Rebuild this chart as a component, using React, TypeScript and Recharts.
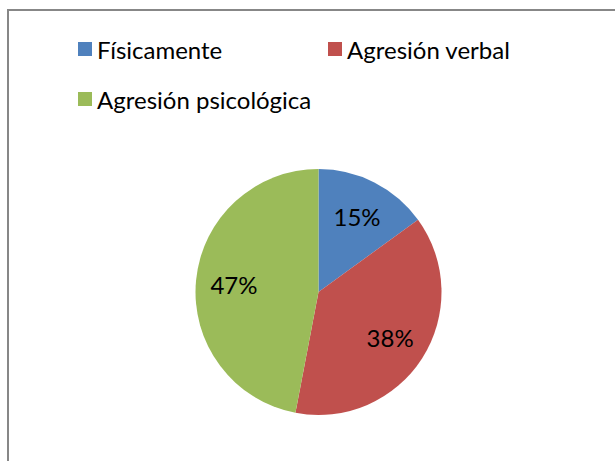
import { PieChart, Pie, Cell, Legend } from "recharts";

const categories = ["Físicamente", "Agresión verbal", "Agresión psicológica"];
const values = [15, 38, 47];
const colors = ["#4F81BD", "#C0504D", "#9BBB59"];

const data = categories.map((name, i) => ({ name, value: values[i] }));

const FONT = "Lato, Calibri, 'Noto Sans', sans-serif";
const RADIAN = Math.PI / 180;
const LEGEND_H = 113;

const renderLabel = (props: any) => {
  const { cx, cy, midAngle, outerRadius, percent } = props;
  const r = outerRadius * 0.69;
  const x = cx + r * Math.cos(-midAngle * RADIAN);
  const y = cy + r * Math.sin(-midAngle * RADIAN);
  return (
    <text
      x={x}
      y={y}
      fill="#000"
      textAnchor="middle"
      dominantBaseline="central"
      fontFamily={FONT}
      fontSize={24}
    >
      {`${Math.round(percent * 100)}%`}
    </text>
  );
};

const renderLegend = ({ payload }: any) => {
  const items = [...(payload || [])].sort(
    (a: any, b: any) => categories.indexOf(a.value) - categories.indexOf(b.value)
  );
  return (
    <div
      style={{
        display: "flex",
        flexWrap: "wrap",
        paddingLeft: 69,
        paddingTop: 13,
        width: 600,
        height: LEGEND_H,
        boxSizing: "border-box",
        fontFamily: FONT,
        fontSize: 24,
        color: "#000",
      }}
    >
      {items.map((entry: any, i: number) => (
        <div
          key={i}
          style={{ display: "flex", alignItems: "center", width: 250, height: 50, flexShrink: 0 }}
        >
          <div style={{ width: 14, height: 14, background: entry.color, marginRight: 5 }} />
          <span>{entry.value}</span>
        </div>
      ))}
    </div>
  );
};

export default function App() {
  return (
    <div
      style={{
        position: "fixed",
        left: 0,
        top: 0,
        width: 615,
        height: 461,
        overflow: "hidden",
        background: "#fff",
      }}
    >
      <div
        style={{
          position: "absolute",
          left: 7,
          top: 9,
          width: 640,
          height: 480,
          border: "2px solid #878787",
          boxSizing: "border-box",
          background: "#fff",
        }}
      >
        <PieChart width={606} height={450} margin={{ top: 0, right: 0, bottom: 0, left: 0 }}>
          <Legend
            verticalAlign="top"
            align="left"
            content={renderLegend}
            wrapperStyle={{ top: 0, left: 0 }}
          />
          <Pie
            data={data}
            dataKey="value"
            nameKey="name"
            cx={309.5}
            cy={281 - LEGEND_H}
            outerRadius={123}
            startAngle={90}
            endAngle={-270}
            stroke="none"
            label={renderLabel}
            labelLine={false}
            isAnimationActive={false}
          >
            {data.map((d, i) => (
              <Cell key={d.name} fill={colors[i]} />
            ))}
          </Pie>
        </PieChart>
      </div>
    </div>
  );
}
